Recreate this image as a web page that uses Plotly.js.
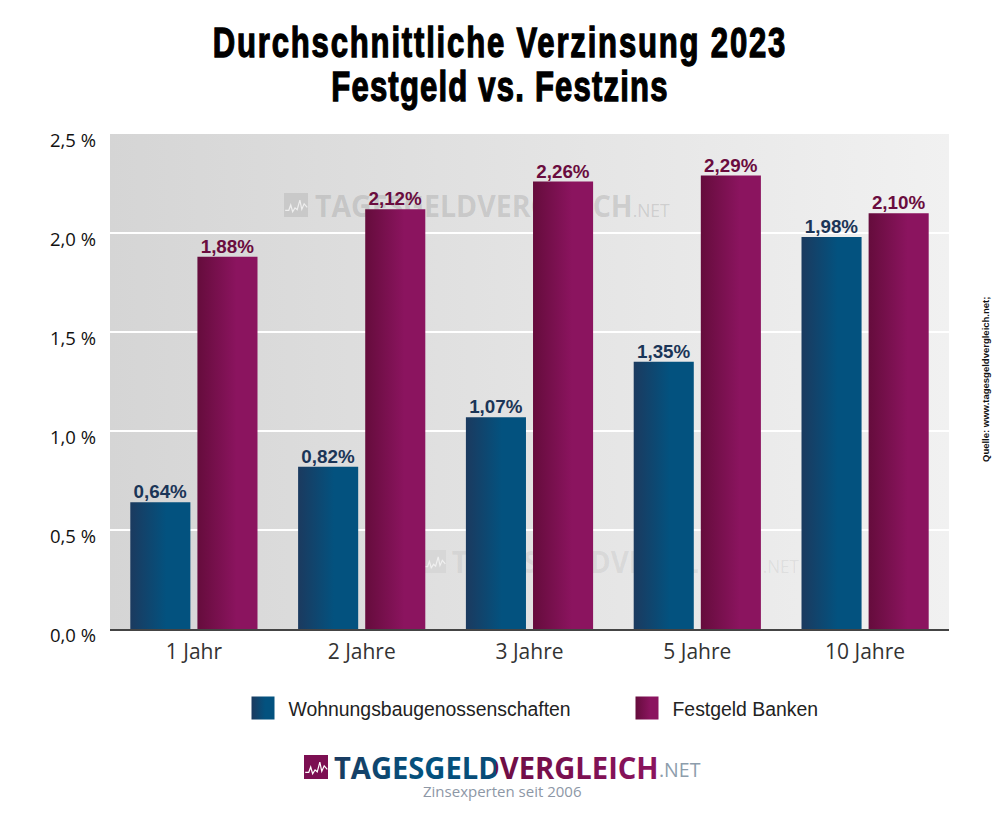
<!DOCTYPE html>
<html><head><meta charset="utf-8">
<script src="https://cdn.plot.ly/plotly-3.0.1.min.js"></script>
<style>html,body{margin:0;padding:0;background:#fff}</style></head>
<body><div id="chart" style="width:1000px;height:817px"></div>
<script>
const categories = ['1 Jahr','2 Jahre','3 Jahre','5 Jahre','10 Jahre'];
const wohnungsbau = [0.64,0.82,1.07,1.35,1.98];
const festgeld = [1.88,2.12,2.26,2.29,2.10];
const yTickVals = [0,0.5,1,1.5,2,2.5];
const yTickText = ['0,0 %','0,5 %','1,0 %','1,5 %','2,0 %','2,5 %'];
const L=110,R=949,T=134,B=629;
const xp=x=>(x-L)/(R-L), yp=y=>(B-y)/(B-T);
const fmt=v=>v.toFixed(2).replace('.',',')+'%';
function icon(x,y,s,fill,line,layer){
  const pts=[[.05,.72],[.2,.72],[.28,.5],[.36,.78],[.46,.62],[.55,.7],[.66,.3],[.74,.68],[.84,.45],[.97,.6]];
  const path='M'+pts.map(p=>xp(x+p[0]*s).toFixed(4)+','+yp(y+p[1]*s).toFixed(4)).join('L');
  return [
   {type:'rect',xref:'paper',yref:'paper',x0:xp(x),x1:xp(x+s),y0:yp(y),y1:yp(y+s),fillcolor:fill,line:{width:0},layer},
   {type:'path',xref:'paper',yref:'paper',path,line:{color:line,width:1.2},layer}
  ];
}
const wm=(x,y,size,color)=>({xref:'paper',yref:'paper',x:xp(x),y:yp(y),xanchor:'left',yanchor:'middle',showarrow:false,
  text:'<b>TAGESGELDVERGLEICH</b><span style="font-size:'+Math.round(size*.6)+'px">.NET</span>',
  font:{family:'Open Sans, sans-serif',size,color}});
const data=[
 {type:'bar',name:'Wohnungsbaugenossenschaften',x:categories,y:wohnungsbau,text:wohnungsbau.map(fmt),textposition:'outside',cliponaxis:false,legend:'legend',
  textfont:{family:'Liberation Sans, Arial, sans-serif',size:18.8,color:'#1b3557',weight:700},marker:{color:'#03527f',line:{width:0}},hoverinfo:'skip'},
 {type:'bar',name:'Festgeld Banken',x:categories,y:festgeld,text:festgeld.map(fmt),textposition:'outside',cliponaxis:false,legend:'legend2',
  textfont:{family:'Liberation Sans, Arial, sans-serif',size:18.8,color:'#6a0c3e',weight:700},marker:{color:'#8b145f',line:{width:0}},hoverinfo:'skip'}
];
const legendBase={orientation:'v',y:yp(689),xanchor:'left',yanchor:'top',itemwidth:41,itemclick:false,itemdoubleclick:false,
   font:{family:'Liberation Sans, Arial, sans-serif',size:19.4,color:'#222'},bgcolor:'rgba(0,0,0,0)'};
const layout={
 width:1000,height:817,margin:{l:L,r:1000-R,t:T,b:817-B,pad:0},
 paper_bgcolor:'#fff',plot_bgcolor:'#e3e3e3',
 barmode:'group',bargap:0.2,bargroupgap:0.105,
 title:{text:'<b>Durchschnittliche Verzinsung 2023<br>Festgeld vs. Festzins</b>',x:0.5,xanchor:'center',y:0.9435,yanchor:'middle',
   font:{family:'Liberation Sans, sans-serif',size:42,color:'#000'}},
 xaxis:{type:'category',showgrid:false,showline:true,linecolor:'#444',linewidth:2,ticks:'',zeroline:false,
   tickfont:{family:'Open Sans, sans-serif',size:21,color:'#333'},ticklabelstandoff:3,ticklabelshift:-2.5},
 yaxis:{range:[0,2.5],tickvals:yTickVals,ticktext:yTickText,showgrid:true,gridcolor:'#fff',gridwidth:2,zeroline:false,showline:false,ticks:'',
   tickfont:{family:'Open Sans, sans-serif',size:18.5,color:'#111'},ticklabelshift:7,ticklabelstandoff:13},
 showlegend:true,
 legend:{...legendBase,x:xp(237.5)},
 legend2:{...legendBase,x:xp(621.5)},
 annotations:[
  wm(313,205,31,'rgba(100,100,100,.2)'),
  wm(450,561,31,'rgba(100,100,100,.1)'),
  {xref:'paper',yref:'paper',x:xp(332),y:yp(767),xanchor:'left',yanchor:'middle',showarrow:false,
   text:'<b>TAGESGELDVERGLEICH</b>',font:{family:'Open Sans, sans-serif',size:31,color:'#0f4a74'}},
  {xref:'paper',yref:'paper',x:xp(657),y:yp(769.5),xanchor:'left',yanchor:'middle',showarrow:false,text:'.NET',
   font:{family:'Open Sans, sans-serif',size:19.5,color:'#8d9dac'}},
  {xref:'paper',yref:'paper',x:xp(502),y:yp(791),xanchor:'center',yanchor:'middle',showarrow:false,text:'Zinsexperten seit 2006',
   font:{family:'Open Sans, sans-serif',size:15,color:'#8d97a6'}},
  {xref:'paper',yref:'paper',x:xp(985),y:yp(380),xanchor:'center',yanchor:'middle',showarrow:false,textangle:-90,
   text:'<b>Quelle: www.tagesgeldvergleich.net;</b>',font:{family:'Liberation Sans, Arial, sans-serif',size:9.5,color:'#111'}}
 ],
 shapes:[...icon(284,193,24,'#c9c9c9','#eee','below'),...icon(423,550,23,'#d7d7d7','#f0f0f0','below'),...icon(304,755,24,'#7c0f52','#fff','above')]
};
function grad(defs,id,stops){
  const NS='http://www.w3.org/2000/svg';const g=document.createElementNS(NS,'linearGradient');
  g.id=id;g.setAttribute('x1','0');g.setAttribute('x2','1');g.setAttribute('y1','0');g.setAttribute('y2','0');
  stops.forEach(s=>{const e=document.createElementNS(NS,'stop');e.setAttribute('offset',s[0]);e.setAttribute('stop-color',s[1]);g.appendChild(e);});
  defs.appendChild(g);
}
Plotly.newPlot('chart',data,layout,{displayModeBar:false}).then(gd=>{
  const svg=gd.querySelector('.main-svg');
  const NS='http://www.w3.org/2000/svg';
  const defs=svg.querySelector('defs')||svg.insertBefore(document.createElementNS(NS,'defs'),svg.firstChild);
  grad(defs,'gBlue',[[0,'#1b3a5f'],[.6,'#03527f'],[1,'#03527f']]);
  grad(defs,'gPurple',[[0,'#650c3c'],[.65,'#8b145f'],[1,'#8b145f']]);
  grad(defs,'gBg',[[0,'#d5d5d5'],[1,'#f1f1f1']]);
  grad(defs,'gLogo',[[0,'#1b3a5f'],[.28,'#03527f'],[.5,'#0a4a75'],[.5,'#6d0d44'],[1,'#8b145f']]);
  const bg=gd.querySelector('.bglayer .bg'); if(bg) bg.style.fill='url(#gBg)';
  gd.querySelectorAll('.barlayer .trace').forEach((t,i)=>{
    t.querySelectorAll('.point path').forEach(p=>p.style.fill=i?'url(#gPurple)':'url(#gBlue)');
    t.querySelectorAll('.point text').forEach(x=>x.setAttribute('transform','translate(0,3) '+(x.getAttribute('transform')||'')));
  });
  gd.querySelectorAll('g.traces').forEach((t,i)=>{
    const p=t.querySelector('.legendpoints path, .legendbar path');
    if(p){p.setAttribute('d','M11.5,11.5H-11.5V-11.5H11.5Z');p.style.fill=i?'url(#gPurple)':'url(#gBlue)';}
  });
  // title: condensed heavy look and tighter line pitch
  const tt=gd.querySelector('.gtitle');
  if(tt){
    tt.style.strokeWidth='1.3px';tt.style.stroke='#000';
    tt.setAttribute('transform','translate(500,0) scale(0.74,1) translate(-500,0)');
    const lines=tt.querySelectorAll('tspan.line');
    if(lines.length==2){
      lines[1].removeAttribute('dy');
      lines[0].setAttribute('y','57');lines[1].setAttribute('y','101');
      lines[0].style.letterSpacing='2.45px';lines[1].style.letterSpacing='1.6px';
    }
  }
  // logo and watermarks
  const anns=gd.querySelectorAll('.annotation');
  const squeeze=(g,x,s)=>{const o=g.getAttribute('transform')||'';g.setAttribute('transform','translate('+x+',0) scale('+s+',1) translate('+(-x)+',0) '+o);};
  const low=gd.querySelector('.layer-below .shapelayer')||gd.querySelector('.layer-below');
  [0,1].forEach(i=>{squeeze(anns[i],i?450:313,i?0.9:0.92);low.appendChild(anns[i]);});
  squeeze(anns[2],332,0.94);
  const lt=anns[2].querySelector('text');
  if(lt)lt.style.fill='url(#gLogo)';
  anns[2].querySelectorAll('tspan').forEach(s=>s.style.fill='url(#gLogo)');
});
</script></body></html>
